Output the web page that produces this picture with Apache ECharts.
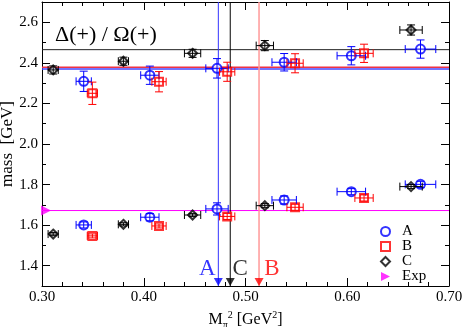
<!DOCTYPE html>
<html>
<head>
<meta charset="utf-8">
<script src="https://cdn.jsdelivr.net/npm/echarts@6/dist/echarts.min.js"></script>
<style>
html,body{margin:0;padding:0;background:#fff}
#main{width:463px;height:327px}
</style>
</head>
<body>
<div id="main"></div>
<script>
// ensemble A
var xA   = [0.341, 0.406, 0.472, 0.538, 0.604, 0.672];
var dxA  = [0.0075, 0.009, 0.011, 0.012, 0.014, 0.015];
var hiA  = [2.309, 2.339, 2.373, 2.403, 2.435, 2.468];
var dhiA = [0.05, 0.045, 0.048, 0.043, 0.045, 0.045];
var loA  = [1.601, 1.639, 1.680, 1.724, 1.765, 1.801];
var dloA = [0.015, 0.018, 0.03, 0.02, 0.015, 0.015];
// ensemble B
var xB   = [0.3495, 0.415, 0.482, 0.5487, 0.6165];
var dxB  = [0.005, 0.007, 0.0075, 0.008, 0.009];
var hiB  = [2.250, 2.307, 2.356, 2.398, 2.447];
var dhiB = [0.055, 0.05, 0.047, 0.047, 0.045];
var loB  = [1.547, 1.596, 1.643, 1.688, 1.734];
var dloB = [0.01, 0.01, 0.015, 0.015, 0.015];
// ensemble C
var xC   = [0.311, 0.380, 0.448, 0.519, 0.6627];
var dxC  = [0.005, 0.005, 0.008, 0.0085, 0.011];
var hiC  = [2.365, 2.408, 2.447, 2.485, 2.562];
var dhiC = [0.02, 0.02, 0.02, 0.025, 0.025];
var loC  = [1.556, 1.604, 1.650, 1.696, 1.790];
var dloC = [0.008, 0.008, 0.008, 0.01, 0.01];

// fits / physical points / experiment
var fitHiC = 2.465, fitHiB = 2.378, fitHiA = 2.370;
var expMass = 1.672;
var physA = 0.4733, physC = 0.485, physB = 0.5133;
var xExp = 0.304;

var FONT = 'Liberation Serif';
var BLUE = '#0000ff', RED = '#ff0000', BLACK = '#000000', MAG = '#ff00ff';

function pts(x, hi, lo) {
    return x.map(function (v, i) { return [v, hi[i]]; })
        .concat(x.map(function (v, i) { return [v, lo[i]]; }));
}
function errs(x, dx, hi, dhi, lo, dlo) {
    return x.map(function (v, i) { return [v, hi[i], dx[i], dhi[i]]; })
        .concat(x.map(function (v, i) { return [v, lo[i], dx[i], dlo[i]]; }));
}
function errRender(color) {
    return function (params, api) {
        var x = api.value(0), y = api.value(1), dx = api.value(2), dy = api.value(3);
        var c = api.coord([x, y]);
        var l = api.coord([x - dx, y])[0], r = api.coord([x + dx, y])[0];
        var t = api.coord([x, y + dy])[1], b = api.coord([x, y - dy])[1];
        var cap = 4;
        var st = {stroke: color, lineWidth: 1};
        function ln(x1, y1, x2, y2) {
            return {type: 'line', shape: {x1: x1, y1: y1, x2: x2, y2: y2}, style: st};
        }
        return {type: 'group', children: [
            ln(l, c[1], r, c[1]),
            ln(l, c[1] - cap, l, c[1] + cap),
            ln(r, c[1] - cap, r, c[1] + cap),
            ln(c[0], t, c[0], b),
            ln(c[0] - cap, t, c[0] + cap, t),
            ln(c[0] - cap, b, c[0] + cap, b)
        ]};
    };
}
function hline(y, color, w) {
    return {type: 'line', silent: true, symbol: 'none', data: [[0.3, y], [0.7, y]],
        lineStyle: {color: color, width: w}, z: 1};
}
function vline(x, color, w) {
    return {type: 'line', silent: true, symbol: 'none', data: [[x, 1.3], [x, 2.7]],
        lineStyle: {color: color, width: w}, z: 1};
}
function arrow(x, txt, color, dx) {
    return {value: [x, 1.3], itemStyle: {color: color},
        label: {show: true, formatter: txt, position: 'inside', offset: [dx, -13],
            color: color, fontFamily: FONT, fontSize: 23}};
}

var tickStyle = {color: '#000', width: 1};
function xAx(pos, name) {
    return {
        gridIndex: 0, type: 'value', min: 0.3, max: 0.7, interval: 0.1, position: pos,
        axisLine: {lineStyle: {color: '#000'}},
        axisTick: {inside: true, length: 8, lineStyle: tickStyle},
        minorTick: {show: true, splitNumber: 5, length: 4, lineStyle: tickStyle},
        splitLine: {show: false}, minorSplitLine: {show: false},
        axisLabel: {show: pos === 'bottom', margin: 4, color: '#000', fontFamily: FONT, fontSize: 15,
            formatter: function (v) { return v.toFixed(2); }},
        name: name, nameLocation: 'middle', nameGap: 22,
        nameTextStyle: {color: '#000', fontFamily: FONT, fontSize: 16,
            rich: {
                m: {fontFamily: FONT, fontSize: 16, color: '#000'},
                s: {fontFamily: FONT, fontSize: 10, color: '#000', verticalAlign: 'bottom', padding: [10, 0, 0, 0]},
                p: {fontFamily: FONT, fontSize: 10, color: '#000', verticalAlign: 'top', padding: [0, 0, 8, 0]}
            }}
    };
}
function yAxMinor(pos, name) {
    return {
        gridIndex: 0, type: 'value', min: 1.3, max: 2.7, interval: 0.1, position: pos,
        axisLine: {lineStyle: {color: '#000'}},
        axisTick: {inside: true, length: 4, lineStyle: tickStyle},
        splitLine: {show: false}, axisLabel: {show: false},
        name: name, nameLocation: 'middle', nameGap: 26,
        nameTextStyle: {color: '#000', fontFamily: FONT, fontSize: 17}
    };
}
function yAxMajor(pos) {
    return {
        gridIndex: 1, type: 'value', min: 1.4, max: 2.8, interval: 0.2, position: pos,
        axisLine: {show: false},
        axisTick: {inside: true, length: 8, lineStyle: tickStyle},
        splitLine: {show: false},
        axisLabel: {show: pos === 'left', margin: 4, color: '#000', fontFamily: FONT, fontSize: 15,
            formatter: function (v) { return v > 2.75 ? '' : v.toFixed(1); }}
    };
}

var chart = echarts.init(document.getElementById('main'));
chart.setOption({
    animation: false,
    backgroundColor: '#fff',
    title: {text: 'Δ(+) / Ω(+)', left: 50, top: 19,
        textStyle: {fontFamily: FONT, fontSize: 22, fontWeight: 'normal', color: '#000'}},
    grid: [
        {left: 42, right: 14, top: 2, bottom: 41, containLabel: false, outerBoundsMode: 'none'},
        {left: 42, right: 14, top: -18.286, bottom: 61.286, containLabel: false, outerBoundsMode: 'none'}
    ],
    legend: {
        data: ['A', 'B', 'C', {name: 'Exp', icon: 'path://M0,0 L10,5 L0,10 Z'}],
        orient: 'vertical', left: 375, top: 219,
        itemWidth: 9, itemHeight: 9, itemGap: 0, selectedMode: false,
        textStyle: {fontFamily: FONT, fontSize: 15, color: '#000', lineHeight: 14, padding: [0, 0, 0, 7]}
    },
    xAxis: [
        xAx('bottom', '{m|M}{s|π}{p|2}{m| [GeV}{p|2}{m|]}'),
        xAx('top', ''),
        {gridIndex: 1, type: 'value', min: 0.3, max: 0.7, show: false}
    ],
    yAxis: [
        yAxMinor('left', 'mass  [GeV]'),
        yAxMinor('right', ''),
        yAxMajor('left'),
        yAxMajor('right')
    ],
    series: [
        hline(fitHiC, '#222', 1),
        hline(fitHiB, '#ee3344', 1.5),
        hline(fitHiA, '#4444ff', 1.5),
        hline(expMass, MAG, 1),
        vline(physA, '#3333ff', 1),
        vline(physC, BLACK, 1),
        vline(physB, '#ff9999', 1.5),
        {name: 'A', type: 'scatter', symbol: 'emptyCircle', symbolSize: 9, data: pts(xA, hiA, loA),
            itemStyle: {color: BLUE, borderWidth: 1}, z: 3},
        {name: 'B', type: 'scatter', symbol: 'emptyRect', symbolSize: 8, data: pts(xB, hiB, loB),
            itemStyle: {color: RED, borderWidth: 1}, z: 3},
        {name: 'C', type: 'scatter', symbol: 'emptyDiamond', symbolSize: 9, data: pts(xC, hiC, loC),
            itemStyle: {color: BLACK, borderWidth: 1}, z: 3},
        {name: 'errA', type: 'custom', renderItem: errRender(BLUE), encode: {x: 0, y: 1},
            data: errs(xA, dxA, hiA, dhiA, loA, dloA), z: 4},
        {name: 'errB', type: 'custom', renderItem: errRender(RED), encode: {x: 0, y: 1},
            data: errs(xB, dxB, hiB, dhiB, loB, dloB), z: 4},
        {name: 'errC', type: 'custom', renderItem: errRender(BLACK), encode: {x: 0, y: 1},
            data: errs(xC, dxC, hiC, dhiC, loC, dloC), z: 4},
        {name: 'Exp', type: 'scatter', symbol: 'triangle', symbolRotate: -90, symbolSize: 10,
            itemStyle: {color: MAG}, data: [[xExp, expMass]], z: 5},
        {name: 'phys', type: 'scatter', symbol: 'triangle', symbolRotate: 180, symbolSize: [9, 8],
            symbolOffset: [0, -4], z: 5, silent: true,
            data: [arrow(physA, 'A', BLUE, -11), arrow(physC, 'C', BLACK, 10), arrow(physB, 'B', RED, 13)]}
    ]
});
</script>
</body>
</html>
